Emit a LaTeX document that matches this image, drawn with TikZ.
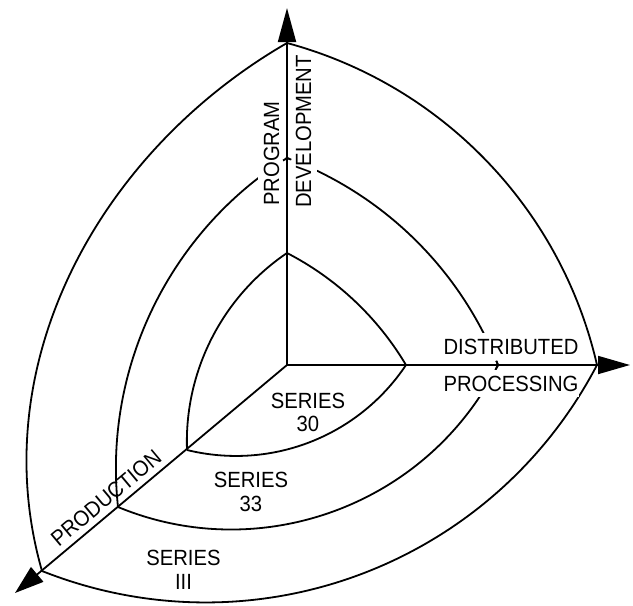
\documentclass[tikz,border=0pt]{standalone}
\usepackage{fontspec}
\setmainfont[FakeStretch=0.92]{Liberation Sans}
\usetikzlibrary{arrows.meta}
\begin{document}
\begin{tikzpicture}[x=1pt,y=1pt,
  arc/.style={line width=1.8pt},
  axis/.style={line width=1.8pt},
  lbl/.style={font=\fontsize{22}{23.5}\selectfont, inner sep=0pt, align=center},
  gap/.style={font=\fontsize{22}{23.5}\selectfont, fill=white, inner xsep=1pt, inner ysep=6pt}]
\useasboundingbox (0,0) rectangle (633,-606);
% axis points
\coordinate (O) at (287,-365);
\coordinate (T1) at (287,-253);
\coordinate (R1) at (406,-365);
\coordinate (L1) at (187,-450);
\coordinate (T2) at (287,-158);
\coordinate (R2) at (498,-365);
\coordinate (L2) at (118,-507);
\coordinate (T3) at (287,-43);
\coordinate (R3) at (597,-365);
\coordinate (L3) at (42,-571);
\coordinate (Tt) at (287,-8);
\coordinate (Rt) at (630,-365);
\coordinate (Lt) at (15,-593);
% inner
\draw[arc] (T1) to[bend left=16, looseness=0.87] (R1);
\draw[arc] (T1) to[bend right=29, looseness=0.91] (L1);
\draw[arc] (L1) to[bend right=35, looseness=0.94] (R1);
% middle
\draw[arc] (T2) to[bend left=24, looseness=0.89] (R2);
\draw[arc] (T2) to[bend right=32, looseness=0.92] (L2);
\draw[arc] (L2) to[bend right=43, looseness=0.98] (R2);
% outer
\draw[arc] (T3) to[bend left=31, looseness=0.92] (R3);
\draw[arc] (T3) to[out=210, in=106, looseness=0.95] (L3);
\draw[arc] (L3) to[bend right=42, looseness=0.98] (R3);
% labels that interrupt the middle arcs
\node[gap, rotate=90] (prog) at (271.5,-153.5) {PROGRAM};
\node[gap, rotate=90] (dev) at (303.5,-131.5) {DEVELOPMENT};
\node[gap] (dist) at (511,-347) {DISTRIBUTED};
\node[gap] (proc) at (511,-383.5) {PROCESSING};
% short pieces of the middle arcs meeting the axes
\begin{scope}
  \clip (T2) circle[radius=5];
  \draw[arc] (T2) to[bend left=24, looseness=0.89] (R2);
  \draw[arc] (T2) to[bend right=32, looseness=0.92] (L2);
\end{scope}
\begin{scope}
  \clip (R2) circle[radius=5];
  \draw[arc] (T2) to[bend left=24, looseness=0.89] (R2);
  \draw[arc] (L2) to[bend right=43, looseness=0.98] (R2);
\end{scope}
% axes
\draw[axis, -{Triangle[length=34pt, width=18pt]}] (O) -- (Tt);
\draw[axis, -{Triangle[length=32pt, width=18pt]}] (O) -- (Rt);
\draw[axis, -{Triangle[length=29pt, width=19pt]}] (O) -- (Lt);
% other labels
\node[lbl, rotate=40] (prod) at (106,-498) {PRODUCTION};
\node[lbl] (s30) at (308,-412.5) {SERIES\\30};
\node[lbl] (s33) at (251,-492) {SERIES\\33};
\node[lbl] (s3) at (183.5,-570) {SERIES\\III};
\end{tikzpicture}
\end{document}
